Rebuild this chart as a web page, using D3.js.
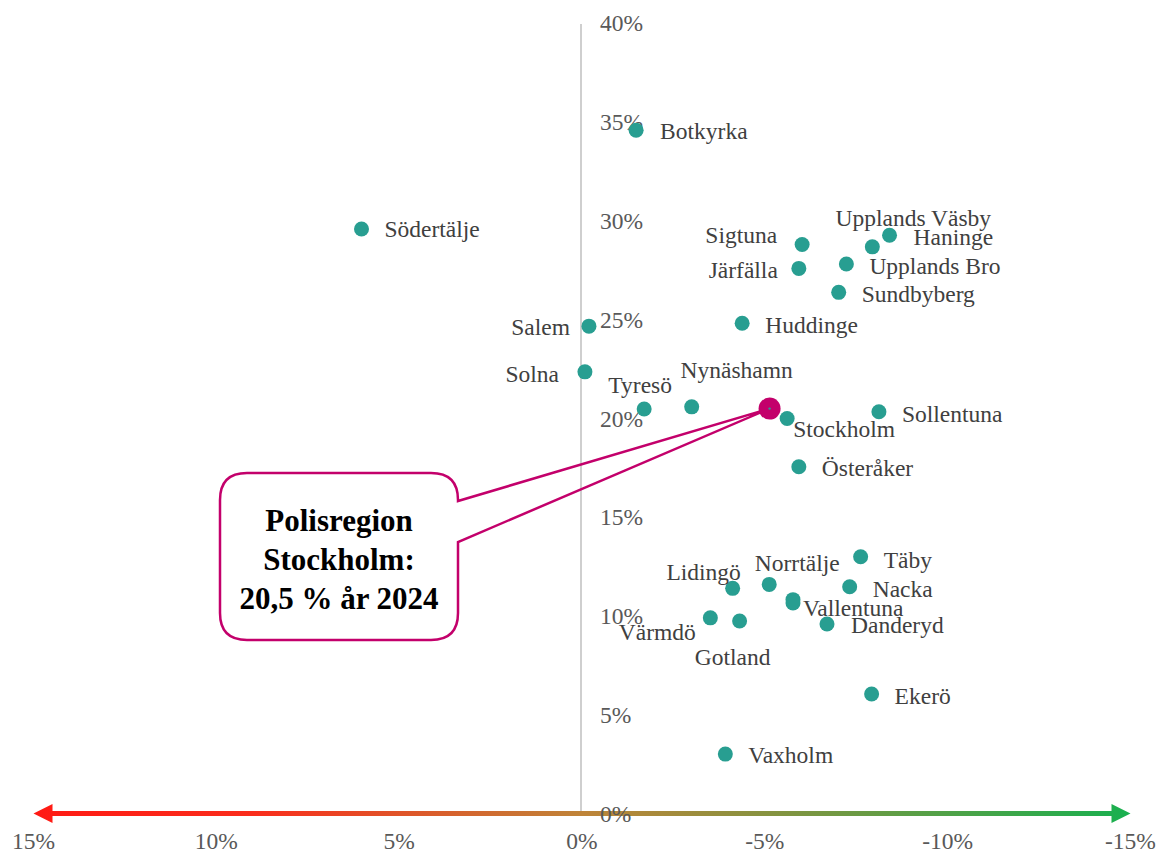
<!DOCTYPE html>
<html>
<head>
<meta charset="utf-8">
<script src="https://cdn.jsdelivr.net/npm/d3@7"></script>
<style>
  html, body { margin: 0; padding: 0; background: #fff; }
  svg { display: block; }
</style>
</head>
<body>
<svg id="chart" width="1163" height="853"></svg>
<script>
// ---- Data ----
const municipalities = ["Botkyrka","Södertälje","Upplands Väsby","Haninge","Sigtuna","Järfälla","Upplands Bro","Sundbyberg","Salem","Huddinge","Solna","Tyresö","Nynäshamn","Stockholm","Sollentuna","Österåker","Täby","Lidingö","Norrtälje","Nacka","Nykvarn","Vallentuna","Värmdö","Gotland","Danderyd","Ekerö","Vaxholm"];
// change (percentage points) – shown on reversed x axis
const changeValues = [-1.48, 6.03, -7.94, -8.41, -6.02, -5.93, -7.23, -7.02, -0.19, -4.38, -0.08, -1.70, -3.00, -5.61, -8.12, -5.93, -7.62, -4.12, -5.12, -7.32, -5.77, -5.77, -3.51, -4.31, -6.70, -7.92, -3.92];
// level 2024 (%)
const levelValues = [34.58, 29.58, 28.68, 29.27, 28.80, 27.59, 27.81, 26.38, 24.67, 24.82, 22.36, 20.48, 20.59, 20.00, 20.34, 17.56, 13.01, 11.41, 11.61, 11.49, 10.84, 10.67, 9.92, 9.76, 9.61, 6.07, 3.03];
const showLabel = [true,true,true,true,true,true,true,true,true,true,true,true,true,true,true,true,true,true,true,true,false,true,true,true,true,true,true];

const regionName = "Polisregion Stockholm";
const regionChange = -5.13;
const regionLevel = 20.5;
const calloutLines = ["Polisregion", "Stockholm:", "20,5 % år 2024"];

const xTicks = [15, 10, 5, 0, -5, -10, -15];
const yTicks = [0, 5, 10, 15, 20, 25, 30, 35, 40];

// ---- Layout (label placement, not data) ----
const labelLayout = {
  "Botkyrka": ["start", 24, 1],
  "Södertälje": ["start", 23, 0],
  "Upplands Väsby": ["middle", 41, -29],
  "Haninge": ["start", 24, 2],
  "Sigtuna": ["end", -25, -9],
  "Järfälla": ["end", -21, 2],
  "Upplands Bro": ["start", 23, 2],
  "Sundbyberg": ["start", 23, 2],
  "Salem": ["end", -19, 1],
  "Huddinge": ["start", 23, 2],
  "Solna": ["end", -26, 2],
  "Tyresö": ["middle", -4, -24],
  "Nynäshamn": ["middle", 45, -37],
  "Stockholm": ["start", 6, 10],
  "Sollentuna": ["start", 23, 2],
  "Österåker": ["start", 23, 1],
  "Täby": ["start", 23, 3],
  "Lidingö": ["middle", -29, -16],
  "Norrtälje": ["middle", 28, -21],
  "Nacka": ["start", 23, 2],
  "Vallentuna": ["start", 10, 5],
  "Värmdö": ["middle", -53, 14],
  "Gotland": ["middle", -7, 36],
  "Danderyd": ["start", 24, 1],
  "Ekerö": ["start", 23, 2],
  "Vaxholm": ["start", 23, 1]
};

const svg = d3.select("#chart");
const x = d3.scaleLinear().domain([15, -15]).range([33.5, 1130.5]);
const y = d3.scaleLinear().domain([0, 40]).range([814, 23]);
const FONT = "'Liberation Serif', 'Times New Roman', serif";
const teal = "#289e91";
const magenta = "#c3006b";

// Gradient arrow (x axis)
const defs = svg.append("defs");
const grad = defs.append("linearGradient").attr("id", "arrowGrad")
  .attr("gradientUnits", "userSpaceOnUse")
  .attr("x1", x(15)).attr("x2", x(-15)).attr("y1", 0).attr("y2", 0);
grad.append("stop").attr("offset", "0%").attr("stop-color", "#ff1a14");
grad.append("stop").attr("offset", "20%").attr("stop-color", "#fa2d1c");
grad.append("stop").attr("offset", "50%").attr("stop-color", "#bf8438");
grad.append("stop").attr("offset", "100%").attr("stop-color", "#18b04f");

// vertical zero axis
svg.append("line")
  .attr("x1", 581).attr("x2", 581)
  .attr("y1", y(40) + 1).attr("y2", y(0))
  .attr("stroke", "#bfbfbf").attr("stroke-width", 1.5);

const ay = y(0) - 0.5, xl = x(15), xr = x(-15), head = 19, hh = 9.5, sh = 2.6;
svg.append("path")
  .attr("d", `M${xl},${ay} L${xl+head},${ay-hh} L${xl+head},${ay-sh} L${xr-head},${ay-sh} L${xr-head},${ay-hh} L${xr},${ay} L${xr-head},${ay+hh} L${xr-head},${ay+sh} L${xl+head},${ay+sh} L${xl+head},${ay+hh} Z`)
  .attr("fill", "url(#arrowGrad)");

// x tick labels
svg.append("g").selectAll("text").data(xTicks).join("text")
  .attr("x", d => x(d)).attr("y", 841)
  .attr("text-anchor", "middle").attr("dominant-baseline", "central")
  .attr("font-family", FONT).attr("font-size", 23.5).attr("fill", "#595959")
  .text(d => d + "%");

// y tick labels
svg.append("g").selectAll("text").data(yTicks).join("text")
  .attr("x", 600).attr("y", d => y(d))
  .attr("text-anchor", "start").attr("dominant-baseline", "central")
  .attr("font-family", FONT).attr("font-size", 23.5).attr("fill", "#595959")
  .text(d => d + "%");

// points
const pts = municipalities.map((n, i) => ({ name: n, cx: changeValues[i], cy: levelValues[i], show: showLabel[i] }));
svg.append("g").selectAll("circle").data(pts).join("circle")
  .attr("cx", d => x(d.cx)).attr("cy", d => y(d.cy)).attr("r", 7.5)
  .attr("fill", teal);

// labels
svg.append("g").selectAll("text").data(pts.filter(d => d.show)).join("text")
  .attr("x", d => x(d.cx) + labelLayout[d.name][1])
  .attr("y", d => y(d.cy) + labelLayout[d.name][2])
  .attr("text-anchor", d => labelLayout[d.name][0])
  .attr("dominant-baseline", "central")
  .attr("font-family", FONT).attr("font-size", 23.5).attr("fill", "#404040")
  .text(d => d.name);

// callout
const bx0 = 220, bx1 = 458, by0 = 473, by1 = 640, r = 27;
const tx = x(regionChange), ty = y(regionLevel);
svg.append("path")
  .attr("d", `M${bx0+r},${by0} L${bx1-r},${by0} Q${bx1},${by0} ${bx1},${by0+r} L${bx1},501 L${tx},${ty} L${bx1},542 L${bx1},${by1-r} Q${bx1},${by1} ${bx1-r},${by1} L${bx0+r},${by1} Q${bx0},${by1} ${bx0},${by1-r} L${bx0},${by0+r} Q${bx0},${by0} ${bx0+r},${by0} Z`)
  .attr("fill", "none").attr("stroke", magenta).attr("stroke-width", 2.5)
  .attr("stroke-linejoin", "miter");
svg.append("rect").attr("x", bx0 + 2).attr("y", by0 + 2).attr("width", bx1 - bx0 - 4).attr("height", by1 - by0 - 4).attr("rx", r - 2).attr("fill", "#fff");

svg.append("g").selectAll("text").data(calloutLines).join("text")
  .attr("x", 339).attr("y", (d, i) => 520 + i * 39)
  .attr("text-anchor", "middle").attr("dominant-baseline", "central")
  .attr("font-family", FONT).attr("font-size", 31).attr("font-weight", "bold").attr("fill", "#000")
  .text(d => d);

// region marker
svg.append("circle").attr("cx", tx).attr("cy", ty).attr("r", 11).attr("fill", magenta);
svg.append("circle").attr("cx", tx).attr("cy", ty).attr("r", 1.2).attr("fill", teal);
</script>
</body>
</html>
